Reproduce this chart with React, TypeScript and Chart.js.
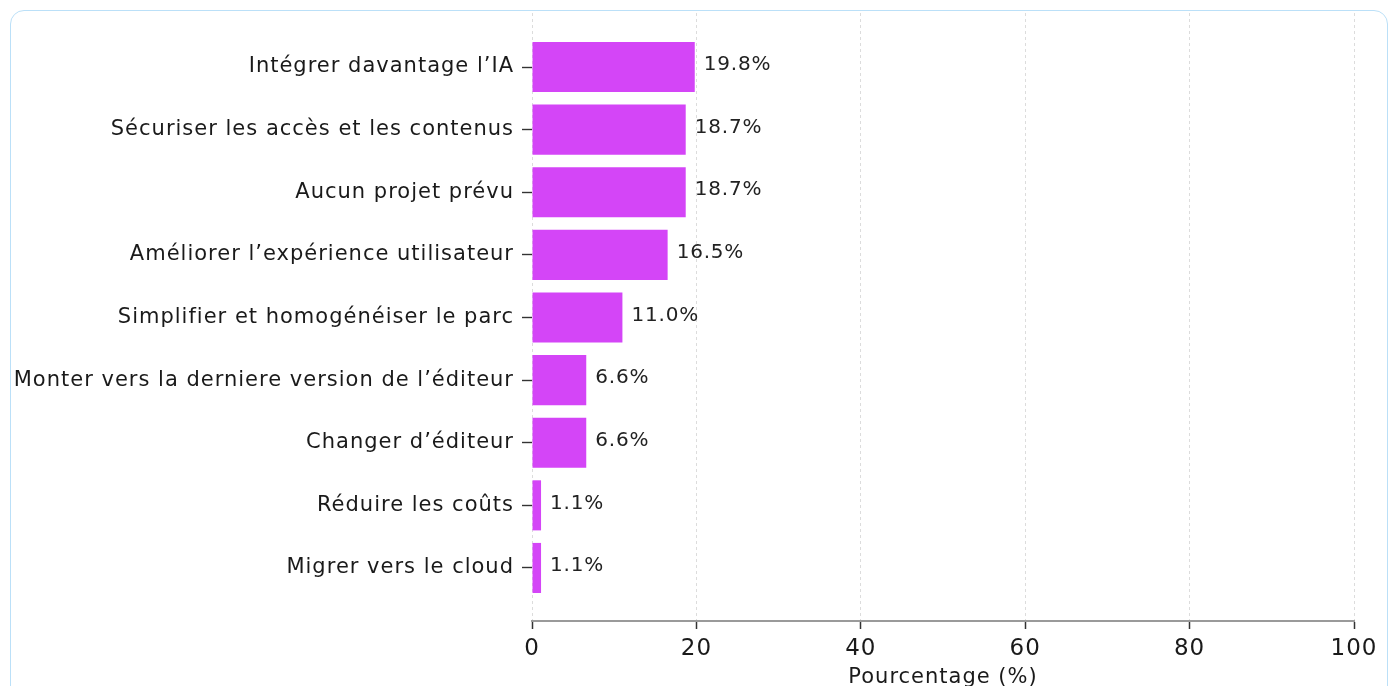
import React, { useEffect, useRef } from "react";
import { Chart, registerables } from "chart.js";

Chart.register(...registerables);

const categories: string[] = [
  "Intégrer davantage l’IA",
  "Sécuriser les accès et les contenus",
  "Aucun projet prévu",
  "Améliorer l’expérience utilisateur",
  "Simplifier et homogénéiser le parc",
  "Monter vers la derniere version de l’éditeur",
  "Changer d’éditeur",
  "Réduire les coûts",
  "Migrer vers le cloud",
];

const percentages: number[] = [19.8, 18.7, 18.7, 16.5, 11.0, 6.6, 6.6, 1.1, 1.1];

const xTicks: number[] = [0, 20, 40, 60, 80, 100];

const FONT = "'DejaVu Sans', sans-serif";
const SPACING = "1px";

const letterSpacing = {
  id: "letterSpacing",
  beforeDraw(chart: any) {
    (chart.ctx as any).letterSpacing = SPACING;
  },
};

const valueLabels = {
  id: "valueLabels",
  afterDatasetsDraw(chart: any) {
    const ctx = chart.ctx;
    const meta = chart.getDatasetMeta(0);
    ctx.save();
    (ctx as any).letterSpacing = "0.8px";
    ctx.font = `20px ${FONT}`;
    ctx.fillStyle = "#222";
    ctx.textAlign = "left";
    ctx.textBaseline = "middle";
    meta.data.forEach((bar: any, i: number) => {
      ctx.fillText(percentages[i].toFixed(1) + "%", bar.x + 9, bar.y - 2);
    });
    ctx.restore();
  },
};

export default function App() {
  const ref = useRef<HTMLCanvasElement>(null);

  useEffect(() => {
    if (!ref.current) return;
    Chart.defaults.font.family = FONT;
    const chart = new Chart(ref.current, {
      type: "bar",
      data: {
        datasets: [
          {
            data: percentages.map((v, i) => ({ x: v, y: i })) as any,
            backgroundColor: "#d445f7",
            borderWidth: 0,
            barPercentage: 0.8,
            categoryPercentage: 1,
          },
        ],
      },
      plugins: [letterSpacing, valueLabels],
      options: {
        indexAxis: "y",
        responsive: false,
        animation: false,
        layout: { padding: { top: 13, right: 36, bottom: 0, left: 0 } },
        plugins: {
          legend: { display: false },
          tooltip: { enabled: false },
        },
        scales: {
          y: {
            type: "linear",
            reverse: true,
            offset: false,
            min: -0.863,
            max: 8.847,
            afterBuildTicks: (scale: any) => {
              scale.ticks = categories.map((_, i) => ({ value: i }));
            },
            afterFit: (scale: any) => {
              scale.width = 532;
              scale.paddingTop = 0;
              scale.paddingBottom = 0;
            },
            ticks: {
              callback: (v: any) => categories[v as number] ?? "",
              color: "#1a1a1a",
              font: { size: 21 },
              padding: 8,
              autoSkip: false,
            },
            grid: {
              display: true,
              offset: false,
              drawOnChartArea: false,
              drawTicks: true,
              tickLength: 10,
              tickColor: "#333",
              tickWidth: 1.4,
            },
            border: { display: false },
          },
          x: {
            type: "linear",
            min: 0,
            max: 100,
            afterBuildTicks: (scale: any) => {
              scale.ticks = xTicks.map((v) => ({ value: v }));
            },
            afterFit: (scale: any) => {
              scale.height = 65;
            },
            ticks: {
              color: "#1a1a1a",
              font: { size: 23, lineHeight: 1 },
              padding: 9,
            },
            grid: {
              color: "#dcdcdc",
              lineWidth: 1,
              drawTicks: true,
              tickLength: 8,
              tickColor: "#333",
              tickWidth: 1.5,
            },
            border: { display: true, color: "#9a9a9a", width: 2, dash: [3, 3] },
            title: {
              display: true,
              text: "Pourcentage (%)",
              color: "#1a1a1a",
              font: { size: 21, lineHeight: 0.8 },
              padding: { top: 4, bottom: 0 },
            },
          },
        },
      },
    });
    return () => chart.destroy();
  }, []);

  return (
    <div>
      <div
        style={{
          position: "absolute",
          left: 10,
          top: 10,
          width: 1378,
          height: 720,
          border: "1.5px solid #bbe0f8",
          borderRadius: 14,
          background: "#fff",
          boxSizing: "border-box",
        }}
      />
      <canvas
        ref={ref}
        width={1390}
        height={686}
        style={{ position: "absolute", left: 0, top: 0, width: 1390, height: 686 }}
      />
    </div>
  );
}
